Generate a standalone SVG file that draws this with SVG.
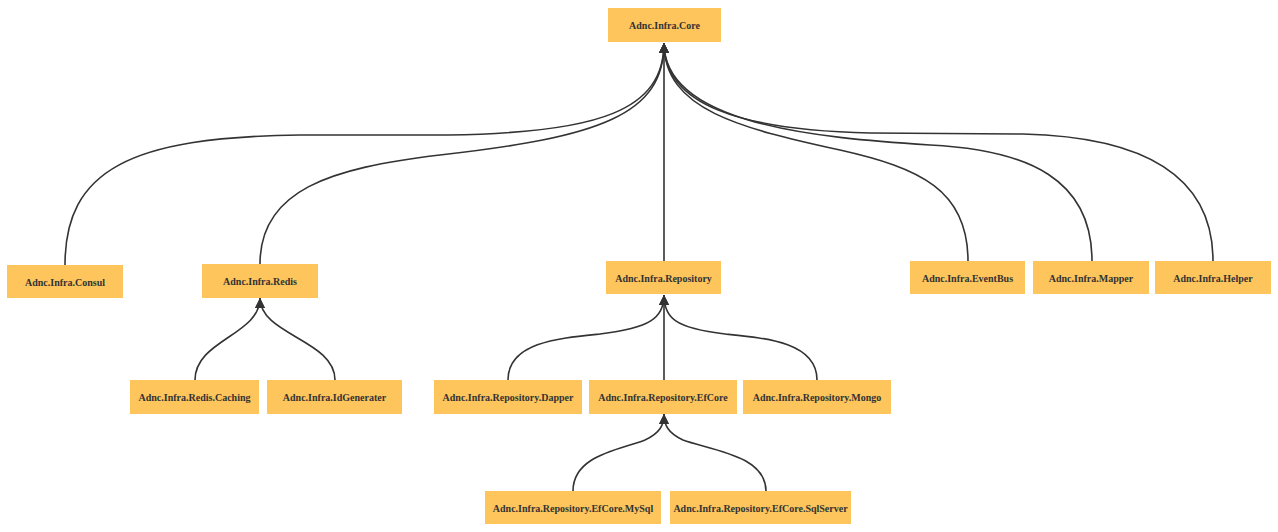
<svg xmlns="http://www.w3.org/2000/svg" width="1278" height="532" viewBox="0 0 1278 532">
<style>
.node rect{fill:#FDC55B;}
.node text{font-family:"Liberation Serif","DejaVu Serif",serif;font-weight:bold;font-size:10px;fill:#333;text-anchor:middle;}
.edge{fill:none;stroke:#333;stroke-width:1.6;marker-end:url(#arrow);}
</style>
<defs>
<marker id="arrow" viewBox="0 0 10 10" refX="10" refY="5" markerUnits="userSpaceOnUse" markerWidth="10" markerHeight="10" orient="auto">
<path d="M0,0 L10,5 L0,10 z" fill="#333"/>
</marker>
</defs>
<rect width="1278" height="532" fill="#fff"/>
<g id="connectors">
<path class="edge" d="M65,265 C65,170 130,137 300,135 L448,135 C600,133 664,110 664,43"/>
<path class="edge" d="M260,264 C260,190 330,168 440,155 C600,137 664,115 664,43"/>
<path class="edge" d="M664,261 L664,43"/>
<path class="edge" d="M968,261 C968,190 920,168 840,150 C740,128 664,110 664,43"/>
<path class="edge" d="M1092,261 C1092,180 1030,150 930,145 C820,138 664,125 664,43"/>
<path class="edge" d="M1213,261 C1213,180 1150,137 1023,134 L870,133 C740,130 664,105 664,43"/>
<path class="edge" d="M195,380 C195,340 260,335 260,298"/>
<path class="edge" d="M335,380 C335,340 260,335 260,298"/>
<path class="edge" d="M508,380 C508,342 560,338 600,334 C650,328 664,318 664,295"/>
<path class="edge" d="M664,380 L664,295"/>
<path class="edge" d="M817,380 C817,342 765,338 725,334 C675,328 664,318 664,295"/>
<path class="edge" d="M573,491 C573,455 620,450 645,440 C660,433 664,425 664,414"/>
<path class="edge" d="M766,491 C766,455 710,450 683,440 C668,433 664,425 664,414"/>
</g>
<g id="core" class="node"><rect x="608" y="8" width="113" height="34"/><text x="664.5" y="29">Adnc.Infra.Core</text></g>
<g id="consul" class="node"><rect x="7" y="265" width="116" height="33"/><text x="65" y="285.5">Adnc.Infra.Consul</text></g>
<g id="redis" class="node"><rect x="202" y="264" width="116" height="34"/><text x="260" y="285">Adnc.Infra.Redis</text></g>
<g id="repository" class="node"><rect x="606" y="261" width="115" height="33"/><text x="663.5" y="281.5">Adnc.Infra.Repository</text></g>
<g id="eventbus" class="node"><rect x="910" y="261" width="115" height="33"/><text x="967.5" y="281.5">Adnc.Infra.EventBus</text></g>
<g id="mapper" class="node"><rect x="1033" y="261" width="116" height="33"/><text x="1091" y="281.5">Adnc.Infra.Mapper</text></g>
<g id="helper" class="node"><rect x="1155" y="261" width="116" height="33"/><text x="1213" y="281.5">Adnc.Infra.Helper</text></g>
<g id="rediscaching" class="node"><rect x="130" y="380" width="129" height="34"/><text x="194.5" y="401">Adnc.Infra.Redis.Caching</text></g>
<g id="idgenerater" class="node"><rect x="267" y="380" width="135" height="34"/><text x="334.5" y="401">Adnc.Infra.IdGenerater</text></g>
<g id="dapper" class="node"><rect x="434" y="380" width="148" height="34"/><text x="508" y="401">Adnc.Infra.Repository.Dapper</text></g>
<g id="efcore" class="node"><rect x="589" y="380" width="148" height="34"/><text x="663" y="401">Adnc.Infra.Repository.EfCore</text></g>
<g id="mongo" class="node"><rect x="743" y="380" width="148" height="34"/><text x="817" y="401">Adnc.Infra.Repository.Mongo</text></g>
<g id="mysql" class="node"><rect x="485" y="491" width="176" height="33"/><text x="573" y="511.5">Adnc.Infra.Repository.EfCore.MySql</text></g>
<g id="sqlserver" class="node"><rect x="670" y="491" width="181" height="33"/><text x="760.5" y="511.5">Adnc.Infra.Repository.EfCore.SqlServer</text></g>
</svg>
